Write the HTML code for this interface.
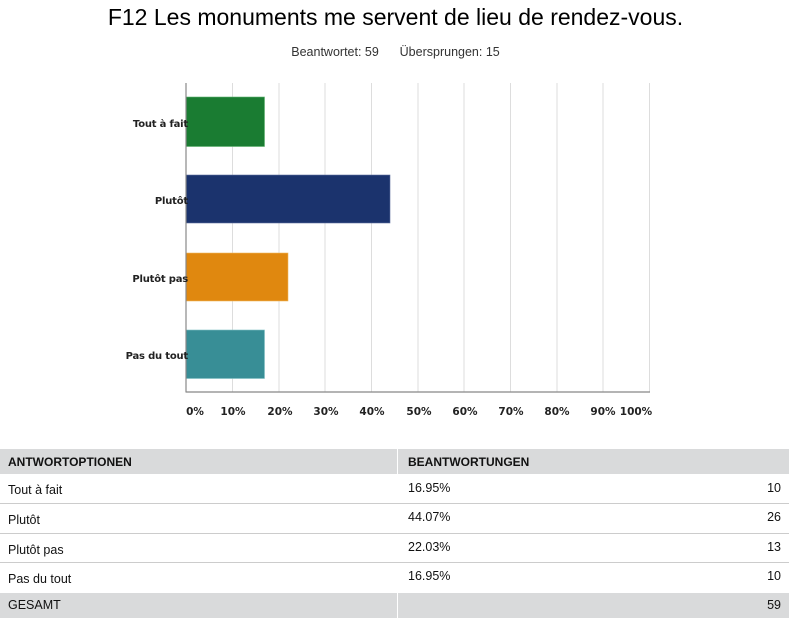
<!DOCTYPE html>
<html><head><meta charset="utf-8"><style>
body{margin:0;width:791px;height:618px;background:#fff;font-family:"Liberation Sans",sans-serif;position:relative;overflow:hidden}
.a{position:absolute}
.t{left:0;width:791px;text-align:center;top:4px;font-size:23px;color:#000}
.s{left:0;width:791px;text-align:center;top:45px;font-size:12.5px;color:#333}
.row{position:absolute;left:0;width:789px;font-size:12.5px;color:#111}
.c1{position:absolute;left:8px}
.c2{position:absolute;left:408px}
.c3{position:absolute;right:8px}
</style></head><body>
<div class="a t">F12 Les monuments me servent de lieu de rendez-vous.</div>
<div class="a s">Beantwortet: 59&nbsp;&nbsp;&nbsp;&nbsp;&nbsp;&nbsp;Übersprungen: 15</div>
<svg class="a" style="left:0;top:0" width="791" height="440">
<g stroke="#ddd" stroke-width="1">
<line x1="232.5" y1="83" x2="232.5" y2="392"/><line x1="279" y1="83" x2="279" y2="392"/>
<line x1="325" y1="83" x2="325" y2="392"/><line x1="371.5" y1="83" x2="371.5" y2="392"/>
<line x1="418" y1="83" x2="418" y2="392"/><line x1="464" y1="83" x2="464" y2="392"/>
<line x1="510.5" y1="83" x2="510.5" y2="392"/><line x1="557" y1="83" x2="557" y2="392"/>
<line x1="603" y1="83" x2="603" y2="392"/><line x1="649.5" y1="83" x2="649.5" y2="392"/>
</g>
<rect x="186" y="97" width="78.5" height="49.5" fill="#1a7c32" stroke="#5fb26f" stroke-width="0.6"/>
<rect x="186" y="175" width="204" height="48" fill="#1b336d" stroke="#6070a0" stroke-width="0.6"/>
<rect x="186" y="253" width="102" height="48" fill="#e0880f" stroke="#f0b860" stroke-width="0.6"/>
<rect x="186" y="330" width="78.5" height="48.5" fill="#388e96" stroke="#80c0c4" stroke-width="0.6"/>
<line x1="186" y1="83" x2="186" y2="392.5" stroke="#888" stroke-width="1.2"/>
<line x1="186" y1="392" x2="650" y2="392" stroke="#888" stroke-width="1.2"/>
<g font-family="DejaVu Sans, sans-serif" font-size="10" font-weight="bold" fill="#222" text-anchor="end" letter-spacing="-0.2">
<text x="188" y="127">Tout à fait</text><text x="188" y="204">Plutôt</text>
<text x="188" y="282">Plutôt pas</text><text x="188" y="359">Pas du tout</text>
</g>
<g font-family="DejaVu Sans, sans-serif" font-size="10.5" font-weight="bold" fill="#222" text-anchor="middle">
<text x="195" y="415">0%</text><text x="233" y="415">10%</text><text x="280" y="415">20%</text>
<text x="326" y="415">30%</text><text x="372" y="415">40%</text><text x="419" y="415">50%</text>
<text x="465" y="415">60%</text><text x="511" y="415">70%</text><text x="557" y="415">80%</text>
<text x="603" y="415">90%</text><text x="636" y="415">100%</text>
</g>
</svg>
<div class="a" style="left:0;top:449px;width:789px;height:25px;background:#d9dadb"></div>
<div class="a" style="left:0;top:593px;width:789px;height:25px;background:#d9dadb"></div>
<div class="a" style="left:397px;top:449px;width:1px;height:169px;background:#fff"></div>
<div class="a" style="left:0;top:503px;width:789px;height:1px;background:#ccc"></div>
<div class="a" style="left:0;top:533px;width:789px;height:1px;background:#ccc"></div>
<div class="a" style="left:0;top:562px;width:789px;height:1px;background:#ccc"></div>
<div class="row" style="top:455px;font-weight:bold;font-size:12px"><span class="c1">ANTWORTOPTIONEN</span><span class="c2">BEANTWORTUNGEN</span></div>
<div class="row" style="top:481px"><span class="c1" style="top:2px">Tout à fait</span><span class="c2">16.95%</span><span class="c3">10</span></div>
<div class="row" style="top:510px"><span class="c1" style="top:3px">Plutôt</span><span class="c2">44.07%</span><span class="c3">26</span></div>
<div class="row" style="top:540px"><span class="c1" style="top:3px">Plutôt pas</span><span class="c2">22.03%</span><span class="c3">13</span></div>
<div class="row" style="top:569px"><span class="c1" style="top:3px">Pas du tout</span><span class="c2">16.95%</span><span class="c3">10</span></div>
<div class="row" style="top:598px"><span class="c1">GESAMT</span><span class="c3">59</span></div>
</body></html>
